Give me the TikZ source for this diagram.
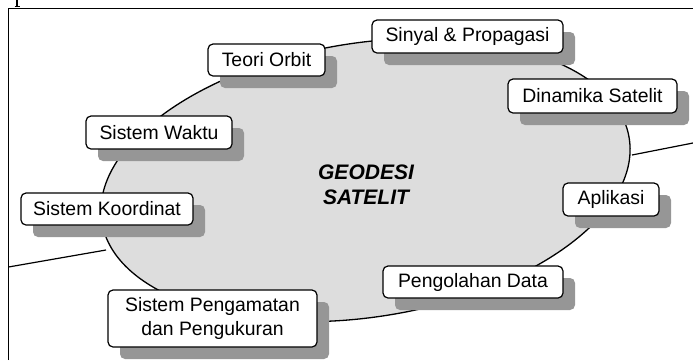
\documentclass[tikz,border=0pt]{standalone}
\usepackage{fontspec}
\setmainfont{Liberation Sans}
\usetikzlibrary{shadows}
\definecolor{ellfill}{RGB}{221,221,221}
\definecolor{shadowc}{RGB}{150,150,150}
\begin{document}
\begin{tikzpicture}[x=1pt,y=-1pt,
  topic/.style={draw, line width=1.2pt, rounded corners=5pt, fill=white,
    drop shadow={shadow xshift=12pt, shadow yshift=-12pt, fill=shadowc, opacity=1},
    inner sep=2pt, align=center, font=\fontsize{19.4}{24}\selectfont},
  frameline/.style={line width=1.4pt},
  link/.style={line width=1.2pt}]
\useasboundingbox (0,0) rectangle (693,360);
% frame
\draw[frameline] (8.5,360) -- (8.5,8.5) -- (693,8.5);
\draw[line width=1.3pt] (17,0) -- (17,6.5) (14.5,6.5) -- (19.5,6.5);
% ellipse
\draw[line width=1.3pt, fill=ellfill, rotate around={9:(365.5,180)}] (365.5,180) ellipse [x radius=267, y radius=137];
\node[font=\fontsize{21}{25}\selectfont\bfseries\itshape, align=center] (center) at (366,185) {GEODESI\\SATELIT};
% lines crossing
\coordinate (la) at (8.5,267);
\coordinate (lb) at (106,250);
\coordinate (ra) at (632,155);
\coordinate (rb) at (693,143);
\draw[link] (la) -- (lb);
\draw[link] (ra) -- (rb);
% boxes
\node[topic, minimum width=117, minimum height=32] (orbit) at (266.5,60) {Teori Orbit};
\node[topic, minimum width=191, minimum height=33] (sinyal) at (467.5,36.5) {Sinyal \& Propagasi};
\node[topic, minimum width=169, minimum height=34] (dinamika) at (592.5,96) {Dinamika Satelit};
\node[topic, minimum width=146, minimum height=33] (waktu) at (159,132.5) {Sistem Waktu};
\node[topic, minimum width=172, minimum height=32] (koord) at (107,209) {Sistem Koordinat};
\node[topic, minimum width=96, minimum height=33] (aplikasi) at (611,199.5) {Aplikasi};
\node[topic, minimum width=180, minimum height=32] (olah) at (473,282) {Pengolahan Data};
\node[topic, minimum width=209, minimum height=57] (amat) at (212.5,318.5) {Sistem Pengamatan\\dan Pengukuran};
\end{tikzpicture}
\end{document}
